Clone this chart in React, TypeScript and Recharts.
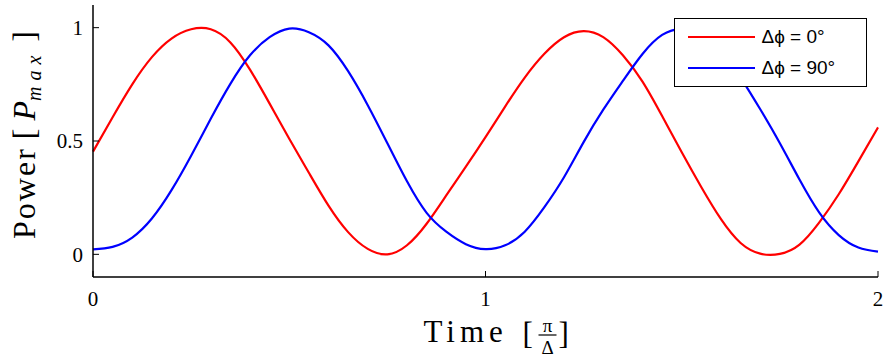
import React from 'react';
import { LineChart, Line, XAxis, YAxis, Legend } from 'recharts';

const timeValues = [
  0, 0.05, 0.1, 0.15, 0.2, 0.25, 0.3, 0.35, 0.4, 0.45, 0.5, 0.55, 0.6, 0.65, 0.7, 0.75, 0.8, 0.85, 0.9, 0.95,
  1, 1.05, 1.1, 1.15, 1.2, 1.25, 1.3, 1.35, 1.4, 1.45, 1.5, 1.55, 1.6, 1.65, 1.7, 1.75, 1.8, 1.85, 1.9, 1.95, 2,
];
const powerDphi0 = [
  0.453, 0.605, 0.75, 0.87, 0.952, 0.993, 0.993, 0.935, 0.815, 0.665, 0.51, 0.36, 0.215, 0.098, 0.024, 0.0, 0.04,
  0.135, 0.26, 0.387, 0.517, 0.652, 0.78, 0.885, 0.958, 0.985, 0.958, 0.878, 0.762, 0.61, 0.45, 0.296, 0.155,
  0.05, 0.003, 0.002, 0.043, 0.14, 0.265, 0.41, 0.56,
];
const powerDphi90 = [
  0.022, 0.033, 0.074, 0.158, 0.283, 0.435, 0.598, 0.752, 0.878, 0.958, 0.996, 0.98, 0.922, 0.808, 0.658, 0.49,
  0.322, 0.183, 0.1, 0.045, 0.023, 0.04, 0.1, 0.208, 0.34, 0.495, 0.638, 0.765, 0.884, 0.968, 0.995, 0.975, 0.9,
  0.78, 0.64, 0.49, 0.33, 0.185, 0.085, 0.03, 0.012,
];
const seriesNames = ['Δϕ = 0°', 'Δϕ = 90°'];
const xTicks = [0, 1, 2];
const yTicks = [0, 0.5, 1];

const data = timeValues.map((t, i) => ({ t, p0: powerDphi0[i], p90: powerDphi90[i] }));

const SERIF = '"Liberation Serif", "Times New Roman", Times, serif';
const SANS = '"Liberation Sans", Arial, Helvetica, sans-serif';

const YLabel = (props: any) => {
  const vb = props.viewBox || { x: 0, y: 0, width: 0, height: 0 };
  const cx = vb.x + 35;
  const cy = vb.y + vb.height / 2 - 6;
  return (
    <text
      transform={`translate(${cx},${cy}) rotate(-90)`}
      textAnchor="middle"
      style={{ fontFamily: SERIF }}
      fontSize={32}
      fill="#000"
    >
      <tspan letterSpacing={2}>Power</tspan>
      <tspan>  [ </tspan>
      <tspan fontStyle="italic">P</tspan>
      <tspan fontStyle="italic" fontSize={20} dy={6} letterSpacing={6}>max</tspan>
      <tspan dy={-6}> ]</tspan>
    </text>
  );
};

const XLabel = (props: any) => {
  const vb = props.viewBox || { x: 0, y: 0, width: 0, height: 0 };
  const cx = vb.x + vb.width / 2;
  const base = vb.y + 65;
  const fx = cx + 62;
  return (
    <g fill="#000" style={{ fontFamily: SERIF }}>
      <text x={cx - 62} y={base} fontSize={31} style={{ fontFamily: SERIF }}>
        <tspan letterSpacing={5}>Time</tspan>
      </text>
      <text x={cx + 37} y={base + 2} fontSize={31} style={{ fontFamily: SERIF }}>[</text>
      <text x={fx} y={base - 10} fontSize={19} textAnchor="middle" style={{ fontFamily: SERIF }}>π</text>
      <line x1={fx - 9} x2={fx + 9} y1={base - 7} y2={base - 7} stroke="#000" strokeWidth={1.2} />
      <text x={fx} y={base + 12} fontSize={19} textAnchor="middle" style={{ fontFamily: SERIF }}>Δ</text>
      <text x={fx + 11} y={base + 2} fontSize={31} style={{ fontFamily: SERIF }}>]</text>
    </g>
  );
};

const LegendBox = (props: any) => {
  const payload = props.payload || [];
  return (
    <div
      style={{
        width: 193,
        height: 69,
        boxSizing: 'border-box',
        border: '1.5px solid #000',
        background: '#fff',
        position: 'relative',
      }}
    >
      {payload.map((p: any, i: number) => (
        <div
          key={i}
          style={{
            position: 'absolute',
            left: 12.5,
            top: 7.5 + i * 31,
            height: 20,
            display: 'flex',
            alignItems: 'center',
            whiteSpace: 'nowrap',
          }}
        >
          <svg width={67} height={4} style={{ display: 'block' }}>
            <line x1={0} y1={2} x2={67} y2={2} stroke={p.color} strokeWidth={2} />
          </svg>
          <span style={{ marginLeft: 7, fontFamily: SANS, fontSize: 19, lineHeight: '20px', color: '#000' }}>
            {p.value}
          </span>
        </div>
      ))}
    </div>
  );
};

const tickStyle = { fontFamily: SERIF, fontSize: 21, fill: '#000' };
const axisLineStyle = { stroke: '#000', strokeWidth: 1.5 };
const tickLineStyle = { stroke: '#000', strokeWidth: 1 };

export default function App() {
  return (
    <div style={{ width: 885, height: 358, background: '#fff', fontFamily: SERIF }}>
      <style>{`body{margin:0;background:#fff;} .recharts-cartesian-axis-tick-value{font-family:${SERIF};}`}</style>
      <LineChart width={885} height={358} data={data} margin={{ top: 5, right: 7, bottom: 0, left: 0 }}>
        <XAxis
          dataKey="t"
          type="number"
          domain={[0, 2]}
          ticks={xTicks}
          interval={0}
          height={81}
          tickSize={-6}
          tickMargin={20}
          tick={tickStyle}
          axisLine={axisLineStyle}
          tickLine={tickLineStyle}
          label={{ content: XLabel }}
        />
        <XAxis
          xAxisId="top"
          orientation="top"
          dataKey="t"
          type="number"
          domain={[0, 2]}
          ticks={xTicks}
          interval={0}
          height={0}
          tickSize={-6}
          tick={false}
          axisLine={axisLineStyle}
          tickLine={tickLineStyle}
        />
        <YAxis
          type="number"
          domain={[-0.1, 1.1]}
          allowDataOverflow
          ticks={yTicks}
          interval={0}
          width={93}
          tickSize={-6}
          tickMargin={16}
          tick={tickStyle}
          axisLine={axisLineStyle}
          tickLine={tickLineStyle}
          label={{ content: YLabel }}
        />
        <YAxis
          yAxisId="right"
          orientation="right"
          type="number"
          domain={[-0.1, 1.1]}
          allowDataOverflow
          ticks={yTicks}
          interval={0}
          width={0}
          tickSize={-6}
          tick={false}
          axisLine={axisLineStyle}
          tickLine={tickLineStyle}
        />
        <Line
          dataKey="p0"
          name={seriesNames[0]}
          type="natural"
          stroke="#ff0000"
          strokeWidth={2.2}
          dot={false}
          isAnimationActive={false}
        />
        <Line
          dataKey="p90"
          name={seriesNames[1]}
          type="natural"
          stroke="#0000ff"
          strokeWidth={2.2}
          dot={false}
          isAnimationActive={false}
        />
        <Legend
          layout="horizontal"
          verticalAlign="middle"
          align="center"
          content={LegendBox}
          wrapperStyle={{ left: 674, top: 18, width: 193, height: 69 }}
        />
      </LineChart>
    </div>
  );
}
